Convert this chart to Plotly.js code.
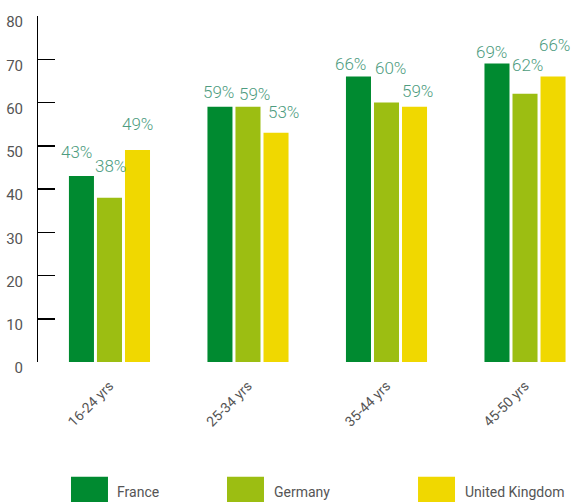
<!DOCTYPE html>
<html><head><meta charset="utf-8">
<script src="https://cdn.plot.ly/plotly-3.0.1.min.js"></script>
<style>html,body{margin:0;padding:0;background:#fff;}#chart{width:571px;height:502px;}</style>
</head><body><div id="chart"></div>
<script>
const categories = ['16-24 yrs', '25-34 yrs', '35-44 yrs', '45-50 yrs'];
const seriesNames = ['France', 'Germany', 'United Kingdom'];
const france = [43, 59, 66, 69];
const germany = [38, 59, 60, 62];
const uk = [49, 53, 59, 66];
const colors = ['#008a30', '#9cbe12', '#f0d800'];
const yTicks = [0, 10, 20, 30, 40, 50, 60, 70, 80];
// hand-placed label offsets in the original (pixels): [dx, gap above bar]
const labelOffsets = [
  [[-4.5, 16], [-1, 7], [-7.5, 5], [-5, 4]],
  [[1.5, 24], [6.5, 5], [3.5, 27], [2.5, 21]],
  [[-0.5, 18], [7.5, 13], [2.5, 8], [1.5, 24]]
];

const font = 'Roboto, "DejaVu Sans", sans-serif';
const values = [france, germany, uk];
const bargap = 0.393, bargroupgap = 0.107;
const slot = (1 - bargap) / 3;
const traces = values.map((v, i) => ({
  type: 'bar', name: seriesNames[i], x: categories, y: v,
  marker: {color: colors[i]},
  showlegend: false, hoverinfo: 'skip'
}));

const shapes = [], annotations = [];
values.forEach((v, s) => {
  v.forEach((val, c) => {
    annotations.push({
      x: c + (s - 1) * slot, y: val, xref: 'x', yref: 'y',
      text: val + '%', showarrow: false, xanchor: 'center', yanchor: 'bottom',
      xshift: labelOffsets[s][c][0], yshift: labelOffsets[s][c][1] - 4,
      font: {family: font, size: 17, color: '#4e9c80', weight: 300}
    });
  });
});
const legSw = [0.0619, 0.3546, 0.713];
const legTx = [0.1445, 0.439, 0.797];
seriesNames.forEach((n, i) => {
  shapes.push({type: 'rect', xref: 'paper', yref: 'paper',
    x0: legSw[i], x1: legSw[i] + 0.0694, y0: -0.41, y1: -0.332,
    fillcolor: colors[i], line: {width: 0}});
  annotations.push({xref: 'paper', yref: 'paper', x: legTx[i], y: -0.375,
    xanchor: 'left', yanchor: 'middle', text: n, showarrow: false,
    font: {family: font, size: 14, color: '#555'}});
});

const layout = {
  width: 571, height: 502,
  margin: {l: 38, r: 0, t: 16, b: 140},
  paper_bgcolor: '#fff', plot_bgcolor: '#fff',
  barmode: 'group', bargap: bargap, bargroupgap: bargroupgap,
  showlegend: false,
  font: {family: font, color: '#555'},
  xaxis: {
    range: [-0.516, 3.332], showgrid: false, zeroline: false, showline: false,
    ticks: '', tickangle: -45, ticklabelstandoff: 12,
    tickfont: {family: font, size: 14, color: '#555'}
  },
  yaxis: {
    range: [0, 80], tickvals: yTicks, showgrid: false, zeroline: false,
    showline: true, linecolor: '#000', linewidth: 1,
    ticks: 'inside', ticklen: 17, tickcolor: '#000', tickwidth: 1.5,
    ticklabelstandoff: 11, ticklabelshift: 6,
    tickfont: {family: font, size: 15, color: '#555'}
  },
  shapes: shapes, annotations: annotations
};
Plotly.newPlot('chart', traces, layout, {displayModeBar: false, staticPlot: true});
</script></body></html>
